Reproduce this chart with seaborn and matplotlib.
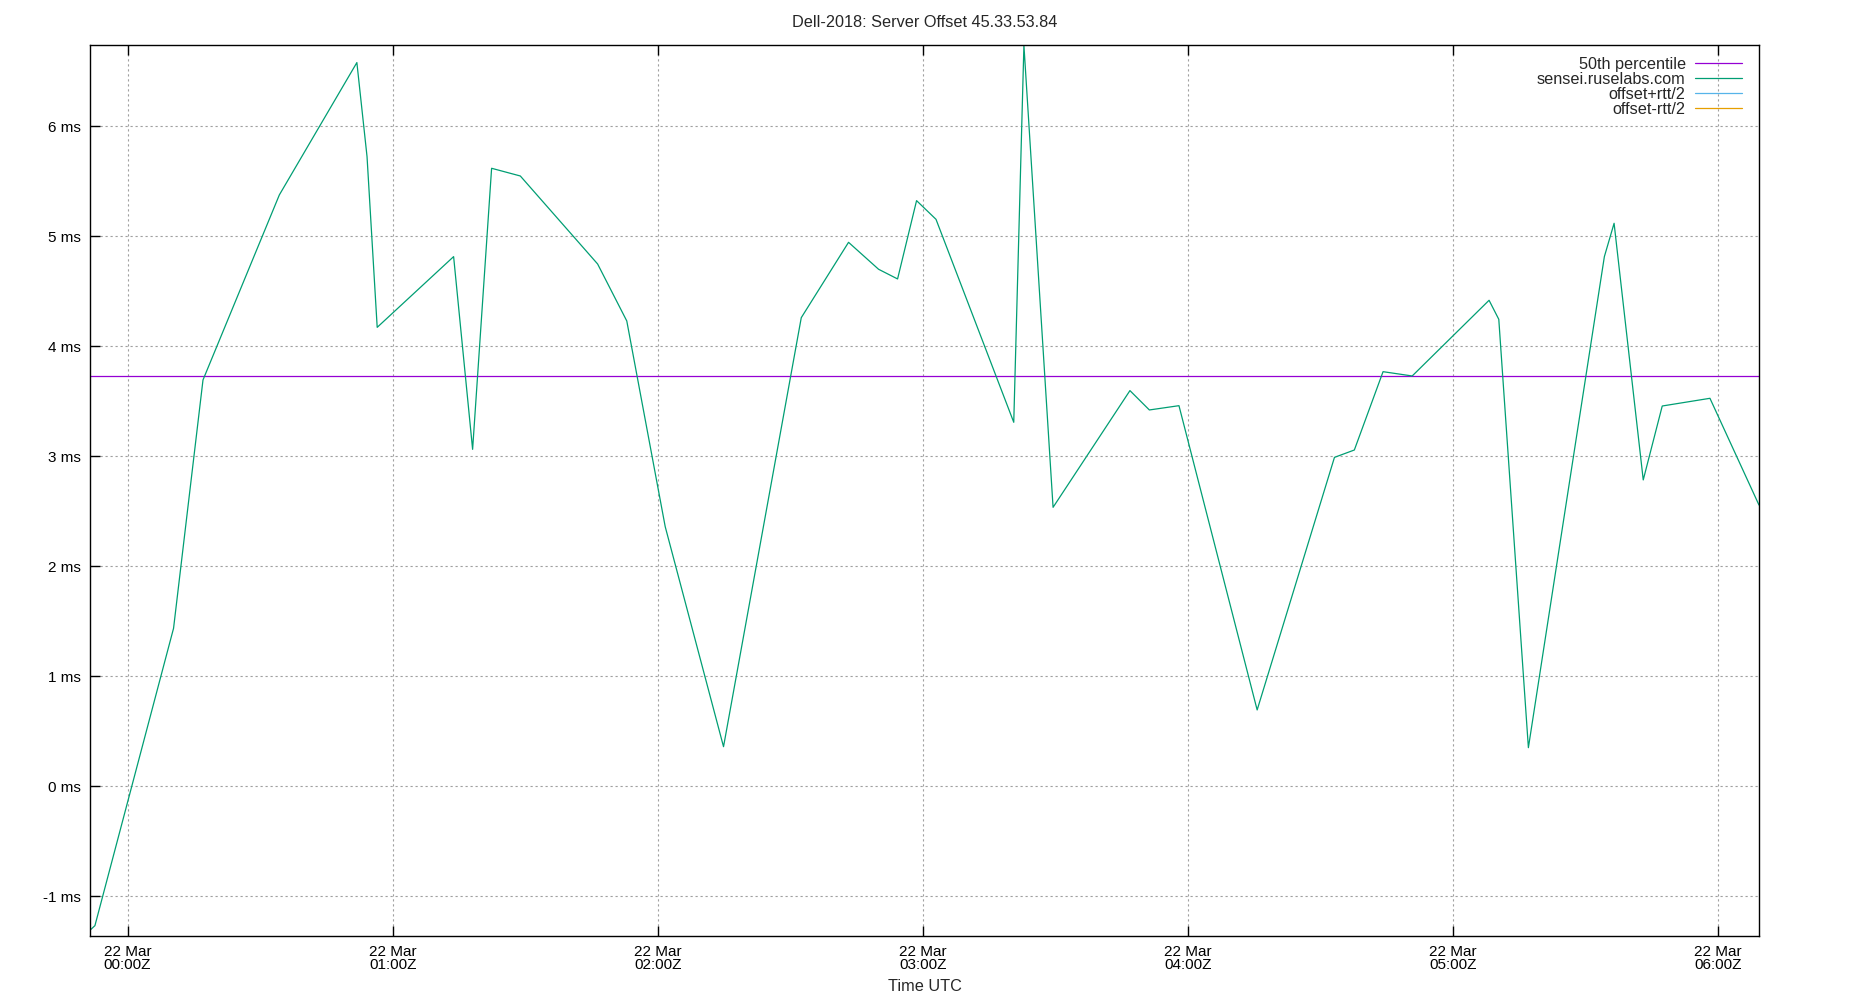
import pandas as pd
import numpy as np
import matplotlib
matplotlib.use("Agg")
import matplotlib.pyplot as plt
import matplotlib.dates as mdates
import seaborn as sns

# offset samples (ms)
times = ["2024-03-21 23:51:33", "2024-03-21 23:52:36", "2024-03-22 00:10:24", "2024-03-22 00:17:04",
         "2024-03-22 00:34:21", "2024-03-22 00:51:54", "2024-03-22 00:54:12", "2024-03-22 00:56:30",
         "2024-03-22 01:13:48", "2024-03-22 01:18:06", "2024-03-22 01:22:24", "2024-03-22 01:28:54",
         "2024-03-22 01:46:24", "2024-03-22 01:53:00", "2024-03-22 02:01:42", "2024-03-22 02:14:54",
         "2024-03-22 02:32:30", "2024-03-22 02:43:12", "2024-03-22 02:50:00", "2024-03-22 02:54:18",
         "2024-03-22 02:58:36", "2024-03-22 03:03:00", "2024-03-22 03:20:36", "2024-03-22 03:22:54",
         "2024-03-22 03:29:30", "2024-03-22 03:46:54", "2024-03-22 03:51:18", "2024-03-22 03:58:00",
         "2024-03-22 04:15:42", "2024-03-22 04:33:12", "2024-03-22 04:37:42", "2024-03-22 04:44:12",
         "2024-03-22 04:50:48", "2024-03-22 05:08:12", "2024-03-22 05:10:24", "2024-03-22 05:17:06",
         "2024-03-22 05:34:18", "2024-03-22 05:36:30", "2024-03-22 05:43:06", "2024-03-22 05:47:24",
         "2024-03-22 05:58:12", "2024-03-22 06:09:18"]
offset_ms = [-1.306, -1.267, 1.436, 3.694, 5.376, 6.579, 5.724, 4.172,
             4.815, 3.063, 5.618, 5.548, 4.748, 4.230, 2.360, 0.360,
             4.260, 4.945, 4.700, 4.612, 5.324, 5.154, 3.309, 6.736,
             2.536, 3.597, 3.421, 3.460, 0.694, 2.990, 3.057, 3.769,
             3.730, 4.418, 4.245, 0.351, 4.815, 5.118, 2.785, 3.457,
             3.527, 2.557]
median_ms = 3.727
server = "sensei.ruselabs.com"
title = "Dell-2018: Server Offset 45.33.53.84"
hour_ticks = ["2024-03-22 00:00", "2024-03-22 01:00", "2024-03-22 02:00", "2024-03-22 03:00",
              "2024-03-22 04:00", "2024-03-22 05:00", "2024-03-22 06:00"]
ms_ticks = [-1, 0, 1, 2, 3, 4, 5, 6]

df = pd.DataFrame({"time": pd.to_datetime(times), "offset": offset_ms})

sns.set_theme(style="white")
plt.rcParams['font.family'] = ['Liberation Sans', 'DejaVu Sans']
plt.rcParams['font.size'] = 11

fig = plt.figure(figsize=(18.5, 10), dpi=100)
ax = fig.add_axes([0.0488, 0.064, 0.9020, 0.8907])

ax.axhline(median_ms, color="#9400d3", lw=0.9, label="50th percentile")
sns.lineplot(data=df, x="time", y="offset", ax=ax, color="#009e73", lw=0.9, label=server)
# rtt bounds have no visible points in the reference, keep legend entries only
ax.plot([], [], color="#56b4e9", lw=0.9, label="offset+rtt/2")
ax.plot([], [], color="#e69f00", lw=0.9, label="offset-rtt/2")

ax.set_xlim(df["time"].min(), df["time"].max())
ax.set_ylim(-1.361, 6.736)

ax.set_xticks(pd.to_datetime(hour_ticks))
ax.xaxis.set_major_formatter(mdates.DateFormatter("%d %b\n%H:%MZ"))
ax.set_yticks(ms_ticks)
ax.set_yticklabels([f"{v} ms" for v in ms_ticks])
for lab in ax.get_xticklabels():
    lab.set_horizontalalignment("center")
    lab.set_linespacing(0.93)

ax.grid(True, color="#a0a0a0", lw=0.8, linestyle=(0, (2, 2.5)))
ax.tick_params(axis="x", direction="in", length=7, width=1, top=True, bottom=True,
               labelsize=11, pad=6.5, colors="black")
ax.tick_params(axis="y", direction="in", length=7, width=1, left=True, right=False,
               labelsize=11, pad=7, colors="black")
for s in ax.spines.values():
    s.set_color("black")
    s.set_linewidth(1)

ax.set_title(title, fontsize=11.7, pad=13)
ax.set_xlabel("Time UTC", fontsize=11.7, labelpad=5)
ax.set_ylabel("")

leg = ax.legend(loc="upper right", frameon=False, markerfirst=False, fontsize=11.7,
                handlelength=2.9, handletextpad=0.55, labelspacing=0.0,
                borderaxespad=0.3, bbox_to_anchor=(0.9965, 1.0))
for t in leg.get_texts():
    t.set_horizontalalignment("right")

fig.savefig("out.png", dpi=100)
